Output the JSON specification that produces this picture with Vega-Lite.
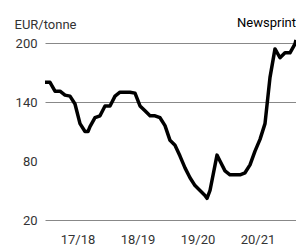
{
  "$schema": "https://vega.github.io/schema/vega-lite/v6.json",
  "width": 251,
  "height": 177,
  "autosize": "none",
  "padding": {"left": 45, "top": 43, "right": 0, "bottom": 26},
  "background": "white",
  "title": {
    "text": "Newsprint",
    "anchor": "end",
    "frame": "group",
    "orient": "top",
    "offset": -22,
    "baseline": "alphabetic",
    "font": "Roboto",
    "fontSize": 13,
    "fontWeight": "normal",
    "color": "#000",
    "dx": 0
  },
  "data": {
    "values": [
      {"t": 0, "v": 160}, {"t": 1, "v": 160}, {"t": 2, "v": 151}, {"t": 3, "v": 151},
      {"t": 4, "v": 147}, {"t": 5, "v": 146}, {"t": 6, "v": 138}, {"t": 7, "v": 118},
      {"t": 8, "v": 110}, {"t": 8.6, "v": 110}, {"t": 9, "v": 115}, {"t": 10, "v": 124},
      {"t": 11, "v": 126}, {"t": 12, "v": 136}, {"t": 13, "v": 136}, {"t": 14, "v": 146},
      {"t": 15, "v": 150}, {"t": 16, "v": 150}, {"t": 17, "v": 150}, {"t": 18, "v": 149},
      {"t": 19, "v": 136}, {"t": 20, "v": 131}, {"t": 21, "v": 126}, {"t": 22, "v": 126},
      {"t": 23, "v": 124}, {"t": 24, "v": 116}, {"t": 25, "v": 101}, {"t": 26, "v": 96},
      {"t": 27, "v": 85}, {"t": 28, "v": 73}, {"t": 29, "v": 63}, {"t": 30, "v": 55},
      {"t": 31, "v": 50}, {"t": 32, "v": 45}, {"t": 32.4, "v": 42}, {"t": 33, "v": 50},
      {"t": 34.4, "v": 86}, {"t": 35, "v": 80}, {"t": 36, "v": 70}, {"t": 37, "v": 66},
      {"t": 38, "v": 66}, {"t": 39, "v": 66}, {"t": 40, "v": 68}, {"t": 41, "v": 76},
      {"t": 42, "v": 90}, {"t": 43, "v": 102}, {"t": 44, "v": 118}, {"t": 45, "v": 165},
      {"t": 46, "v": 194}, {"t": 47, "v": 185}, {"t": 48, "v": 190}, {"t": 49, "v": 190},
      {"t": 50, "v": 199}, {"t": 50.2, "v": 203}
    ]
  },
  "mark": {"type": "line", "color": "#000", "strokeWidth": 3.5, "strokeJoin": "round", "clip": false},
  "encoding": {
    "x": {
      "field": "t",
      "type": "quantitative",
      "scale": {"domain": [0, 50.2], "nice": false, "zero": false},
      "axis": {
        "values": [6.5, 18.5, 30.5, 42.5],
        "labelExpr": "datum.value == 6.5 ? '17/18' : datum.value == 18.5 ? '18/19' : datum.value == 30.5 ? '19/20' : '20/21'",
        "title": null,
        "grid": false,
        "domain": false,
        "ticks": false,
        "labelPadding": 13,
        "labelFont": "Roboto",
        "labelFontSize": 13,
        "labelColor": "#333"
      }
    },
    "y": {
      "field": "v",
      "type": "quantitative",
      "scale": {"domain": [20, 200], "nice": false, "zero": false},
      "axis": {
        "values": [20, 80, 140, 200],
        "title": "EUR/tonne",
        "titleAngle": 0,
        "titleAlign": "left",
        "titleBaseline": "alphabetic",
        "titleX": -31,
        "titleY": -15,
        "titleFont": "Roboto",
        "titleFontSize": 13,
        "titleFontWeight": "normal",
        "titleColor": "#333",
        "grid": true,
        "gridColor": "#888",
        "gridWidth": 1,
        "gridOpacity": {"condition": {"test": "datum.value == 80", "value": 0}, "value": 1},
        "domain": false,
        "ticks": false,
        "labelPadding": 8,
        "labelFont": "Roboto",
        "labelFontSize": 13,
        "labelColor": "#333"
      }
    }
  },
  "config": {"view": {"stroke": null}}
}
